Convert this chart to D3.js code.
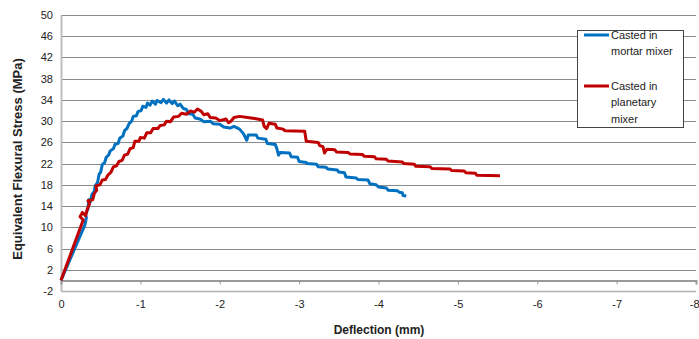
<!DOCTYPE html>
<html lang="en">
<head>
<meta charset="UTF-8">
<title>Flexural stress vs deflection</title>
<script src="https://d3js.org/d3.v7.min.js"></script>
<style>
    body { margin: 0; background: #fff; }
    text { font-family: "Liberation Sans", Arial, sans-serif; fill: #222; }
</style>
</head>
<body>
<script>
// data (deflection in mm, stress in MPa)
var seriesNames = ['Casted in mortar mixer', 'Casted in planetary mixer'];
var xTicks = [0, -1, -2, -3, -4, -5, -6, -7, -8];
var yTicks = [-2, 2, 6, 10, 14, 18, 22, 26, 30, 34, 38, 42, 46, 50];

var mortar = [[0,0],[-0.30,10.4],[-0.32,11.8],[-0.31,12.4],[-0.34,13.5],[-0.35,15.2],[-0.37,14.8],[-0.39,16.2],
    [-0.42,16.8],[-0.43,17.8],[-0.46,18.4],[-0.48,20.0],[-0.50,20.4],[-0.52,21.8],[-0.55,22.2],[-0.57,23.2],
    [-0.60,23.6],[-0.62,24.4],[-0.66,24.8],[-0.68,25.6],[-0.72,25.8],[-0.74,26.8],[-0.78,27.2],[-0.80,28.2],
    [-0.83,28.6],[-0.86,29.6],[-0.89,30.0],[-0.91,30.9],[-0.95,31.0],[-0.97,31.8],[-1.01,32.0],[-1.03,32.8],
    [-1.07,32.6],[-1.09,33.4],[-1.12,33.0],[-1.15,33.8],[-1.19,33.2],[-1.21,33.9],[-1.26,33.5],[-1.29,34.1],
    [-1.33,33.4],[-1.36,34.0],[-1.40,33.3],[-1.43,33.8],[-1.47,32.9],[-1.50,33.2],[-1.54,32.4],[-1.58,32.2],
    [-1.61,31.4],[-1.66,31.3],[-1.69,30.6],[-1.75,30.4],[-1.80,29.9],[-1.88,30.0],[-1.92,29.5],[-2.0,29.4],
    [-2.05,28.9],[-2.13,28.7],[-2.18,29.0],[-2.25,28.5],[-2.30,27.6],[-2.34,26.4],[-2.36,27.4],[-2.46,27.4],
    [-2.48,26.8],[-2.58,26.6],[-2.60,25.8],[-2.70,25.6],[-2.72,24.8],[-2.74,23.6],[-2.76,24.1],[-2.88,24.0],
    [-2.90,23.3],[-2.98,23.2],[-3.0,22.4],[-3.09,22.2],[-3.10,22.0],[-3.22,21.9],[-3.24,21.4],[-3.34,21.3],
    [-3.36,21.0],[-3.48,20.8],[-3.50,20.4],[-3.57,20.3],[-3.59,19.5],[-3.72,19.3],[-3.74,19.0],[-3.87,18.9],
    [-3.89,18.2],[-3.97,18.0],[-4.0,17.6],[-4.10,17.4],[-4.12,17.0],[-4.24,16.9],[-4.26,16.6],[-4.30,16.5],
    [-4.31,16.0],[-4.35,15.9]];

var planetary = [[0,0],[-0.28,11.4],[-0.24,12.0],[-0.27,12.8],[-0.31,12.2],[-0.33,13.4],[-0.36,14.4],[-0.34,15.0],
    [-0.40,15.2],[-0.42,16.4],[-0.45,17.0],[-0.44,17.8],[-0.49,18.0],[-0.52,18.9],[-0.56,19.0],[-0.59,19.8],
    [-0.63,20.4],[-0.66,21.4],[-0.70,21.6],[-0.73,22.4],[-0.77,22.6],[-0.80,23.6],[-0.84,23.8],[-0.87,24.8],
    [-0.91,25.0],[-0.93,26.2],[-0.98,26.2],[-1.00,26.9],[-1.05,26.8],[-1.08,27.8],[-1.13,27.8],[-1.16,28.6],
    [-1.22,28.6],[-1.25,29.2],[-1.30,29.3],[-1.33,30.0],[-1.38,29.9],[-1.42,30.8],[-1.48,30.9],[-1.52,31.5],
    [-1.58,31.3],[-1.63,31.9],[-1.68,31.7],[-1.72,32.3],[-1.77,31.8],[-1.80,31.2],[-1.85,31.4],[-1.88,30.7],
    [-1.95,30.6],[-2.0,30.1],[-2.08,30.4],[-2.11,29.7],[-2.14,30.0],[-2.18,30.7],[-2.25,30.9],[-2.35,30.7],
    [-2.44,30.5],[-2.54,30.2],[-2.56,29.0],[-2.59,28.6],[-2.62,29.6],[-2.70,29.4],[-2.72,28.7],[-2.80,28.5],
    [-2.82,28.2],[-3.07,28.1],[-3.09,26.2],[-3.24,26.0],[-3.26,25.4],[-3.30,25.2],[-3.32,24.0],[-3.35,24.7],
    [-3.45,24.6],[-3.47,24.2],[-3.62,24.1],[-3.64,23.8],[-3.80,23.7],[-3.82,23.4],[-3.95,23.3],[-3.97,22.9],
    [-4.10,22.8],[-4.12,22.5],[-4.30,22.3],[-4.32,22.0],[-4.45,21.9],[-4.47,21.5],[-4.65,21.4],[-4.67,21.1],
    [-4.90,21.0],[-4.92,20.7],[-5.08,20.6],[-5.10,20.3],[-5.22,20.2],[-5.24,19.8],[-5.53,19.7]];

var colors = ['#0070C0', '#C00000'];

var w = 699, h = 339;
var mLeft = 61, mRight = 696, mTop = 15, mBottom = 291;

var svg = d3.select('body').append('svg')
    .attr('width', w)
    .attr('height', h);

var x = d3.scaleLinear().domain([0, -8]).range([mLeft, mRight]);
var y = d3.scaleLinear().domain([-2, 50]).range([mBottom, mTop]);
var fmt = d => String(d);   // plain hyphen minus like the original

// gridlines
svg.append('g').selectAll('line')
    .data(yTicks)
    .enter().append('line')
    .attr('x1', mLeft).attr('x2', mRight)
    .attr('y1', d => Math.round(y(d)) + 0.5).attr('y2', d => Math.round(y(d)) + 0.5)
    .attr('stroke', d => d == -2 ? '#b0b0b0' : '#8a8a8a')
    .attr('stroke-width', d => d == -2 ? 1.5 : 1);

// y axis
var yAxis = svg.append('g')
    .attr('transform', 'translate(' + mLeft + ',0)')
    .call(d3.axisLeft(y).tickValues(yTicks).tickSize(0).tickPadding(8).tickFormat(fmt));
yAxis.select('.domain').attr('stroke', '#bdbdbd').attr('stroke-width', 2);
yAxis.selectAll('text').attr('font-size', 11).attr('fill', '#222');

// x axis sits on y = 0, labels below the plot
var xAxis = svg.append('g')
    .attr('transform', 'translate(0,' + y(0) + ')')
    .call(d3.axisBottom(x).tickValues(xTicks).tickSize(4).tickFormat(fmt));
xAxis.select('.domain').attr('stroke', '#9a9a9a').attr('stroke-width', 2);
xAxis.selectAll('.tick line').attr('stroke', '#9a9a9a');
xAxis.selectAll('text')
    .attr('y', mBottom + 9 - y(0))
    .attr('font-size', 11).attr('fill', '#222');
// last label hugs the right edge, as in the original
xAxis.selectAll('text').filter(d => d == -8).attr('text-anchor', 'end').attr('dx', 3);

// lines
var line = d3.line().x(d => x(d[0])).y(d => y(d[1]));
[mortar, planetary].forEach(function (s, i) {
    svg.append('path')
        .datum(s)
        .attr('d', line)
        .attr('fill', 'none')
        .attr('stroke', colors[i])
        .attr('stroke-width', 3)
        .attr('stroke-linejoin', 'round');
});

// axis titles
svg.append('text')
    .attr('transform', 'translate(22,' + ((mTop + mBottom) / 2 + 6) + ') rotate(-90)')
    .attr('text-anchor', 'middle')
    .attr('font-size', 13).attr('font-weight', 'bold')
    .text('Equivalent Flexural Stress (MPa)');

svg.append('text')
    .attr('x', 379).attr('y', 334)
    .attr('text-anchor', 'middle')
    .attr('font-size', 12).attr('font-weight', 'bold')
    .text('Deflection (mm)');

// legend
var lg = svg.append('g');
lg.append('rect')
    .attr('x', 577.5).attr('y', 30.5)
    .attr('width', 106).attr('height', 97)
    .attr('fill', '#fff').attr('stroke', '#444');

var legendLines = [['Casted in', 'mortar mixer'], ['Casted in', 'planetary', 'mixer']];
var legendY = [35, 86];
legendLines.forEach(function (lines, i) {
    lg.append('line')
        .attr('x1', 584).attr('x2', 609)
        .attr('y1', legendY[i]).attr('y2', legendY[i])
        .attr('stroke', colors[i]).attr('stroke-width', 3);
    lines.forEach(function (t, j) {
        lg.append('text')
            .attr('x', 611).attr('y', legendY[i] + 4 + j * 16.3)
            .attr('font-size', 11)
            .text(t);
    });
});
</script>
</body>
</html>
